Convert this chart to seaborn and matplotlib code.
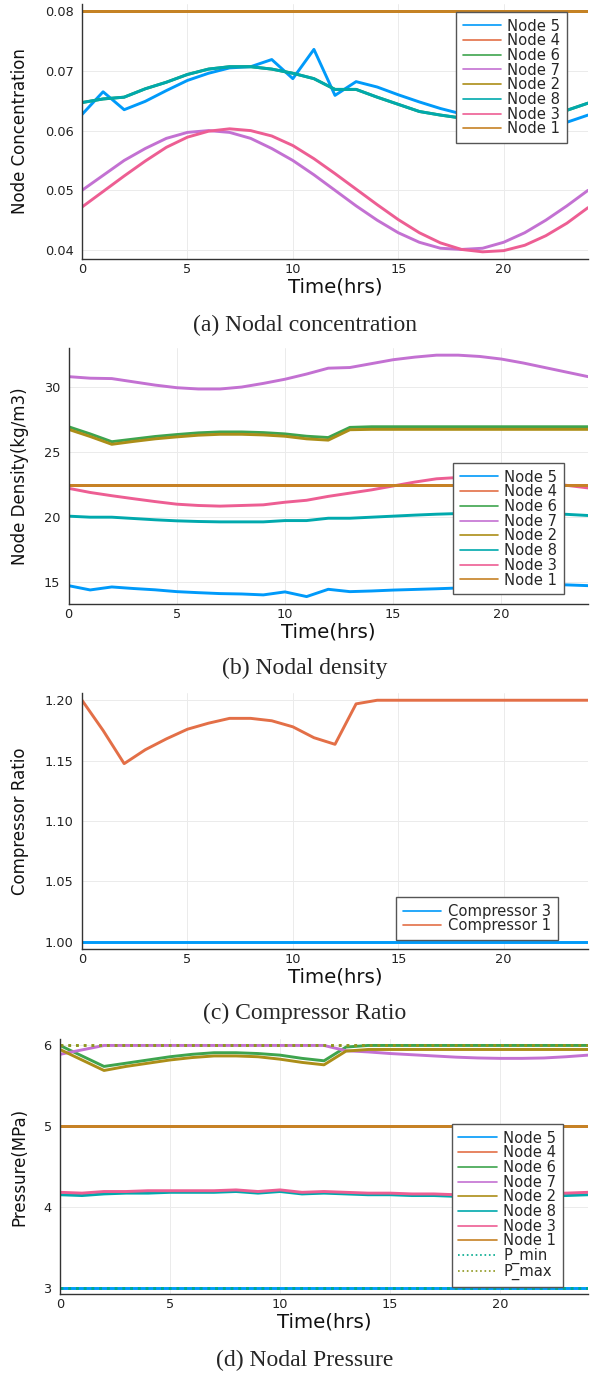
import matplotlib
matplotlib.use("Agg")
import matplotlib.pyplot as plt
import seaborn as sns
from matplotlib.ticker import FormatStrFormatter

# time axis (hours)
hours = list(range(25))

# ---- (a) nodal concentration ----
conc_node5 = [0.0627, 0.0665, 0.0635, 0.0649, 0.0667, 0.0684, 0.0696, 0.0705, 0.0707, 0.0719, 0.0687,
              0.0736, 0.0659, 0.0682, 0.0673, 0.0660, 0.0648, 0.0637, 0.0628, 0.0625, 0.0622, 0.0619,
              0.0616, 0.0614, 0.0626]
conc_node4 = [0.08] * 25
conc_node6 = [0.0647, 0.0653, 0.0656, 0.0670, 0.0681, 0.0694, 0.0703, 0.0707, 0.0707, 0.0703, 0.0696,
              0.0687, 0.0669, 0.0669, 0.0656, 0.0644, 0.0632, 0.0626, 0.0621, 0.0617, 0.0615, 0.0618,
              0.0625, 0.0634, 0.0646]
conc_node7 = [0.0500, 0.0525, 0.0550, 0.0570, 0.0587, 0.0597, 0.0600, 0.0597, 0.0587, 0.0570, 0.0550,
              0.0526, 0.0500, 0.0474, 0.0450, 0.0429, 0.0413, 0.0403, 0.0401, 0.0403, 0.0413, 0.0429,
              0.0450, 0.0474, 0.0500]
conc_node2 = [0.08] * 25
conc_node8 = [0.0647, 0.0653, 0.0656, 0.0670, 0.0681, 0.0694, 0.0703, 0.0707, 0.0707, 0.0703, 0.0696,
              0.0687, 0.0669, 0.0669, 0.0656, 0.0644, 0.0632, 0.0626, 0.0621, 0.0617, 0.0615, 0.0618,
              0.0625, 0.0634, 0.0646]
conc_node3 = [0.0472, 0.0498, 0.0524, 0.0549, 0.0572, 0.0589, 0.0599, 0.0603, 0.0600, 0.0591, 0.0575,
              0.0553, 0.0528, 0.0502, 0.0476, 0.0451, 0.0429, 0.0412, 0.0401, 0.0397, 0.0399, 0.0408,
              0.0424, 0.0445, 0.0471]
conc_node1 = [0.08] * 25

# ---- (b) nodal density ----
dens_node5 = [14.74, 14.41, 14.64, 14.52, 14.42, 14.28, 14.2, 14.13, 14.1, 14.03, 14.26, 13.9, 14.46,
              14.28, 14.33, 14.4, 14.45, 14.5, 14.56, 14.62, 14.68, 14.74, 14.8, 14.8, 14.74]
dens_node4 = [22.5] * 25
dens_node6 = [26.95, 26.4, 25.8, 26.0, 26.2, 26.35, 26.48, 26.55, 26.55, 26.5, 26.4, 26.22, 26.12,
              26.9, 26.95, 26.95, 26.95, 26.95, 26.95, 26.95, 26.95, 26.95, 26.95, 26.95, 26.95]
dens_node7 = [30.8, 30.68, 30.65, 30.4, 30.15, 29.95, 29.85, 29.85, 30.0, 30.28, 30.6, 31.0, 31.45,
              31.5, 31.8, 32.1, 32.3, 32.45, 32.45, 32.35, 32.15, 31.85, 31.5, 31.15, 30.8]
dens_node2 = [26.75, 26.2, 25.6, 25.82, 26.02, 26.17, 26.3, 26.37, 26.37, 26.32, 26.22, 26.02, 25.92,
              26.72, 26.75, 26.75, 26.75, 26.75, 26.75, 26.75, 26.75, 26.75, 26.75, 26.75, 26.75]
dens_node8 = [20.08, 20.0, 20.0, 19.9, 19.8, 19.72, 19.67, 19.64, 19.64, 19.64, 19.74, 19.74, 19.92,
              19.92, 20.0, 20.08, 20.16, 20.23, 20.28, 20.32, 20.35, 20.35, 20.3, 20.22, 20.13]
dens_node3 = [22.22, 21.9, 21.65, 21.42, 21.2, 21.0, 20.9, 20.85, 20.9, 20.95, 21.15, 21.3, 21.6,
              21.85, 22.1, 22.4, 22.7, 22.95, 23.05, 23.05, 22.95, 22.8, 22.6, 22.45, 22.25]
dens_node1 = [22.5] * 25

# ---- (c) compressor ratio ----
ratio_comp3 = [1.0] * 25
ratio_comp1 = [1.200, 1.175, 1.1475, 1.159, 1.168, 1.176, 1.181, 1.185, 1.185, 1.183, 1.178, 1.169,
               1.1635, 1.197, 1.200, 1.200, 1.200, 1.200, 1.200, 1.200, 1.200, 1.200, 1.200, 1.200,
               1.200]

# ---- (d) nodal pressure ----
pres_node5 = [3.0] * 25
pres_node4 = [5.0] * 25
pres_node6 = [6.0, 5.87, 5.74, 5.78, 5.82, 5.86, 5.89, 5.91, 5.91, 5.9, 5.88, 5.84, 5.81, 5.98, 6.0,
              6.0, 6.0, 6.0, 6.0, 6.0, 6.0, 6.0, 6.0, 6.0, 6.0]
pres_node7 = [5.89, 5.945, 6.0, 6.0, 6.0, 6.0, 6.0, 6.0, 6.0, 6.0, 6.0, 6.0, 6.0, 5.935, 5.92, 5.9,
              5.885, 5.87, 5.855, 5.845, 5.84, 5.84, 5.845, 5.86, 5.88]
pres_node2 = [5.95, 5.82, 5.69, 5.74, 5.78, 5.82, 5.85, 5.87, 5.87, 5.86, 5.83, 5.79, 5.76, 5.93, 5.95,
              5.95, 5.95, 5.95, 5.95, 5.95, 5.95, 5.95, 5.95, 5.95, 5.95]
pres_node8 = [4.15, 4.14, 4.16, 4.17, 4.17, 4.18, 4.18, 4.18, 4.19, 4.17, 4.19, 4.16, 4.17, 4.16,
              4.15, 4.15, 4.14, 4.14, 4.13, 4.13, 4.13, 4.13, 4.14, 4.14, 4.15]
pres_node3 = [4.18, 4.17, 4.19, 4.19, 4.2, 4.2, 4.2, 4.2, 4.21, 4.19, 4.21, 4.18, 4.19, 4.18, 4.17,
              4.17, 4.16, 4.16, 4.15, 4.15, 4.15, 4.15, 4.16, 4.17, 4.18]
pres_node1 = [5.0] * 25
p_min = [3.0] * 25
p_max = [6.0] * 25

# Plots.jl default palette
colors = {'Node 5': '#009AFA', 'Node 4': '#E36F47', 'Node 6': '#3EA44E', 'Node 7': '#C371D2',
          'Node 2': '#AC8E18', 'Node 8': '#00A9AD', 'Node 3': '#ED5E93', 'Node 1': '#C68225',
          'P_min': '#00A98D', 'P_max': '#8E971D',
          'Compressor 3': '#009AFA', 'Compressor 1': '#E36F47'}

sns.set_style("white")
plt.rcParams['font.family'] = ['DejaVu Sans']

W, H = 597, 1374
fig = plt.figure(figsize=(W / 100, H / 100), dpi=100)


def make_axes(left, top, right, bottom):
    return fig.add_axes([left / W, 1 - bottom / H, (right - left) / W, (bottom - top) / H])


def draw_panel(ax, series, ylabel, ylim, yticks, yfmt, leg_anchor, ylab_x, caption, cap_y):
    for name, vals, ls in series:
        sns.lineplot(x=hours, y=vals, color=colors[name], linewidth=2.1, linestyle=ls,
                     label=name, ax=ax)
    ax.set_xlim(0, 24)
    ax.set_ylim(*ylim)
    ax.set_xticks([0, 5, 10, 15, 20])
    ax.set_yticks(yticks)
    if yfmt:
        ax.yaxis.set_major_formatter(FormatStrFormatter(yfmt))
    ax.grid(True, color='#ebebeb', linewidth=0.7)
    for side in ['top', 'right']:
        ax.spines[side].set_visible(False)
    for side in ['left', 'bottom']:
        ax.spines[side].set_color('#333333')
        ax.spines[side].set_linewidth(1.0)
    ax.tick_params(axis='both', direction='in', length=3, width=0.8, color='#333333',
                   labelsize=9.3, labelcolor='#222222')
    ax.tick_params(axis='y', pad=6.0)
    ax.tick_params(axis='x', pad=3)
    ax.set_xlabel('Time(hrs)', fontsize=14.2, color='#111111')
    ax.set_ylabel(ylabel, fontsize=12, color='#111111')
    ax.xaxis.label.set_va('center')
    ax.yaxis.label.set_va('center')
    ax.xaxis.set_label_coords(0.5, -0.11)
    ax.yaxis.set_label_coords(ylab_x, 0.5)
    leg = ax.legend(loc='upper left', bbox_to_anchor=leg_anchor, borderaxespad=0, fontsize=10.6,
                    frameon=True, fancybox=False, framealpha=1, edgecolor='#555555',
                    handlelength=2.6, handletextpad=0.45, labelspacing=-0.02, borderpad=0.45)
    leg.get_frame().set_linewidth(1.0)
    for line in leg.get_lines():
        line.set_linewidth(1.2)
    fig.text(305 / W, 1 - cap_y / H, caption, ha='center', va='center',
             family='Liberation Serif', fontsize=17)


ax_a = make_axes(82, 4, 588, 259)
draw_panel(ax_a, [('Node 5', conc_node5, '-'), ('Node 4', conc_node4, '-'), ('Node 6', conc_node6, '-'),
                  ('Node 7', conc_node7, '-'), ('Node 2', conc_node2, '-'), ('Node 8', conc_node8, '-'),
                  ('Node 3', conc_node3, '-'), ('Node 1', conc_node1, '-')],
           'Node Concentration', (0.0385, 0.0812), [0.04, 0.05, 0.06, 0.07, 0.08], '%.2f',
           (0.739, 0.969), -0.1225, '(a) Nodal concentration', 325)

ax_b = make_axes(68.5, 348, 588, 604)
draw_panel(ax_b, [('Node 5', dens_node5, '-'), ('Node 4', dens_node4, '-'), ('Node 6', dens_node6, '-'),
                  ('Node 7', dens_node7, '-'), ('Node 2', dens_node2, '-'), ('Node 8', dens_node8, '-'),
                  ('Node 3', dens_node3, '-'), ('Node 1', dens_node1, '-')],
           'Node Density(kg/m3)', (13.33, 33.0), [15, 20, 25, 30], None,
           (0.740, 0.551), -0.093, '(b) Nodal density', 668)

ax_c = make_axes(82, 693, 588, 949)
draw_panel(ax_c, [('Compressor 3', ratio_comp3, '-'), ('Compressor 1', ratio_comp1, '-')],
           'Compressor Ratio', (0.994, 1.206), [1.00, 1.05, 1.10, 1.15, 1.20], '%.2f',
           (0.621, 0.203), -0.1225, '(c) Compressor Ratio', 1013)

ax_d = make_axes(60, 1039, 588, 1294)
draw_panel(ax_d, [('Node 5', pres_node5, '-'), ('Node 4', pres_node4, '-'), ('Node 6', pres_node6, '-'),
                  ('Node 7', pres_node7, '-'), ('Node 2', pres_node2, '-'), ('Node 8', pres_node8, '-'),
                  ('Node 3', pres_node3, '-'), ('Node 1', pres_node1, '-'),
                  ('P_min', p_min, ':'), ('P_max', p_max, ':')],
           'Pressure(MPa)', (2.92, 6.08), [3, 4, 5, 6], None,
           (0.742, 0.667), -0.076, '(d) Nodal Pressure', 1360)

fig.savefig('out.png', dpi=100)
